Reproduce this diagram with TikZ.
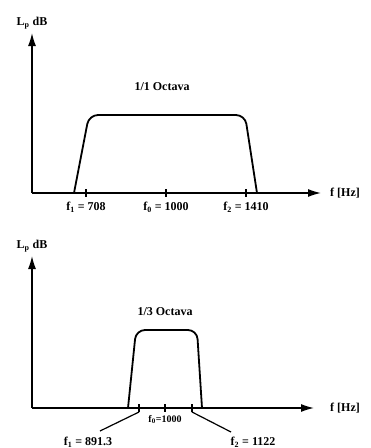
\documentclass[tikz,border=0pt]{standalone}
\usepackage{fontspec}
\setmainfont{Liberation Serif}
\usetikzlibrary{arrows.meta, positioning}

\begin{document}
\begin{tikzpicture}[
      x=1pt, y=-1pt,
      every node/.style={font=\fontsize{12}{14}\selectfont\bfseries, inner sep=1pt},
      axis/.style={-{Latex[length=13pt, width=8pt]}, line width=1.3pt},
      band/.style={line width=1.8pt, rounded corners=9pt},
      tick/.style={line width=1.2pt},
      leader/.style={line width=1.2pt}
    ]
      \useasboundingbox (0,0) rectangle (371,448);

      % octave band
      \coordinate (oA) at (32,193);
      \coordinate (yA) at (32,33);
      \coordinate (xA) at (321,193);
      \draw[axis] (oA) -- (yA);
      \draw[axis] (oA) -- (xA);
      \node[above=3pt of yA] (lpA) {L$_\mathbf{p}$ dB};
      \node[right=8pt of xA] (fA) {f [Hz]};
      \node at (162,87) (titleA) {1/1 Octava};
      \draw[band] (74,193) -- (89,115) -- (245,115) -- (257,193);
      \foreach \x/\n in {86/a1, 166/a0, 246/a2}
        \draw[tick] (\x,189) -- (\x,197) coordinate (\n);
      \node[below=4pt of a1] (fa1) {f$_\mathbf{1}$ = 708};
      \node[below=4pt of a0] (fa0) {f$_\mathbf{0}$ = 1000};
      \node[below=4pt of a2] (fa2) {f$_\mathbf{2}$ = 1410};

      % third octave band
      \coordinate (oB) at (32,408);
      \coordinate (yB) at (32,256);
      \coordinate (xB) at (314,408);
      \draw[axis] (oB) -- (yB);
      \draw[axis] (oB) -- (xB);
      \node[above=3pt of yB] (lpB) {L$_\mathbf{p}$ dB};
      \node[right=15pt of xB] (fB) {f [Hz]};
      \node at (165,312) (titleB) {1/3 Octava};
      \draw[band] (128,408) -- (136,330) -- (197,330) -- (202,408);
      \foreach \x/\n in {139/b1, 165/b0, 192/b2}
        \draw[tick] (\x,404) -- (\x,412) coordinate (\n);
      \node[below=2pt of b0, font=\fontsize{10}{12}\selectfont\bfseries] (fb0) {f$_\mathbf{0}$=1000};
      \node at (88,442) (fb1) {f$_\mathbf{1}$ = 891.3};
      \node at (253,442) (fb2) {f$_\mathbf{2}$ = 1122};
      \coordinate (kb1) at (100,431);
      \coordinate (kb2) at (231,432);
      \draw[leader] (b1) -- (kb1);
      \draw[leader] (b2) -- (kb2);
    \end{tikzpicture}
\end{document}
